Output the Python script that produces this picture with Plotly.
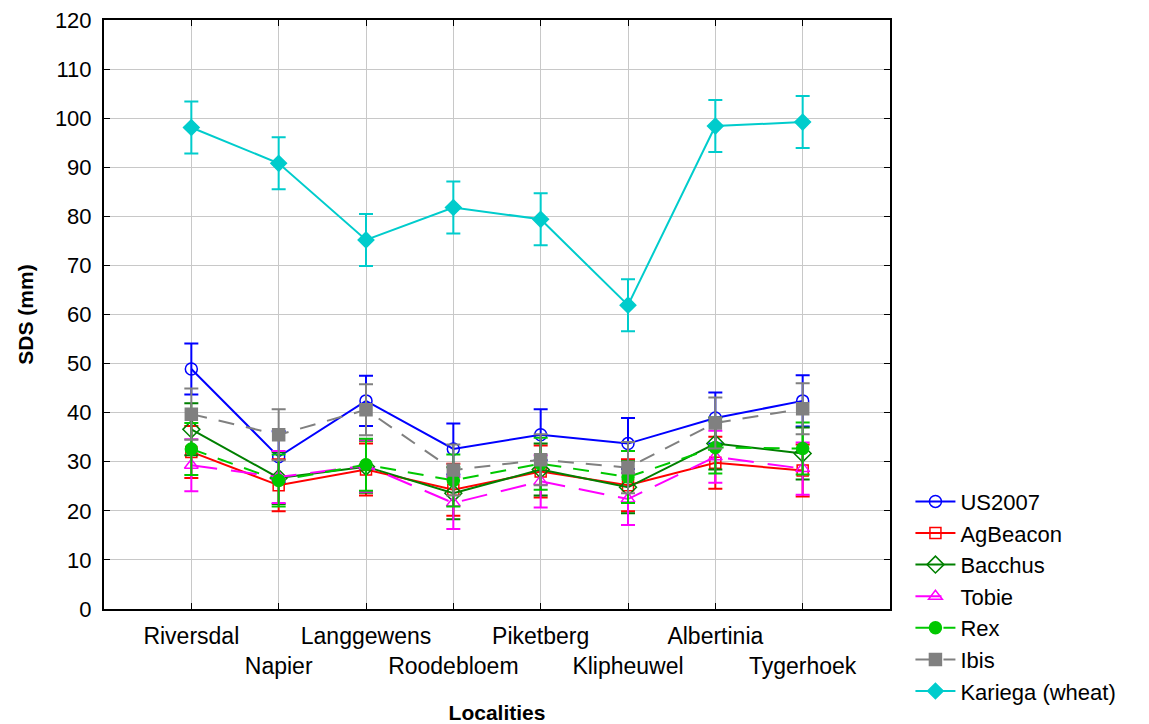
import plotly.graph_objects as go

# Localities (x categories) and tick labels set on two alternating rows
localities = ["Riversdal", "Napier", "Langgewens", "Roodebloem",
              "Piketberg", "Klipheuwel", "Albertinia", "Tygerhoek"]
tick_labels = ["Riversdal", "<br>Napier", "Langgewens", "<br>Roodebloem",
               "Piketberg", "<br>Klipheuwel", "Albertinia", "<br>Tygerhoek"]
positions = [1, 2, 3, 4, 5, 6, 7, 8]

# Mean SDS (mm) per cultivar and locality
us2007 = [48.9, 31.0, 42.4, 32.6, 35.5, 33.7, 38.9, 42.4]
agbeacon = [32.0, 25.2, 28.4, 24.3, 28.0, 25.2, 29.8, 28.2]
bacchus = [36.6, 26.7, 29.0, 23.6, 28.4, 24.8, 33.7, 31.7]
tobie = [29.3, 26.9, 29.2, 21.6, 26.0, 22.4, 31.0, 28.6]
rex = [32.6, 26.2, 29.4, 26.2, 29.6, 26.9, 32.9, 32.7]
ibis = [39.7, 35.5, 40.6, 28.3, 30.4, 28.8, 37.9, 40.8]
kariega = [98.1, 90.8, 75.2, 81.8, 79.4, 61.9, 98.4, 99.2]

# Half-length of the error bars (mm)
us2007_err = [5.2, 5.2, 5.1, 5.2, 5.2, 5.2, 5.2, 5.2]
agbeacon_err = [5.3, 5.3, 5.3, 5.3, 5.3, 5.3, 5.3, 5.3]
bacchus_err = [5.3, 5.3, 5.3, 5.3, 5.3, 5.3, 5.3, 5.3]
tobie_err = [5.3, 5.3, 5.3, 5.3, 5.3, 5.3, 5.3, 5.3]
rex_err = [5.3, 5.3, 5.3, 5.3, 5.3, 5.3, 5.3, 5.3]
ibis_err = [5.2, 5.2, 5.2, 5.2, 5.2, 5.2, 5.2, 5.2]
kariega_err = [5.3, 5.3, 5.3, 5.3, 5.3, 5.3, 5.3, 5.3]

y_ticks = list(range(0, 121, 10))

series = [
    ("US2007", us2007, us2007_err, "#0000ff", "circle-open", "solid", 12),
    ("AgBeacon", agbeacon, agbeacon_err, "#ff0000", "square-open", "solid", 11),
    ("Bacchus", bacchus, bacchus_err, "#008000", "diamond-open", "solid", 13),
    ("Tobie", tobie, tobie_err, "#ff00ff", "triangle-up-open", "26px,14px", 12),
    ("Rex", rex, rex_err, "#00c800", "circle", "16px,12px", 12),
    ("Ibis", ibis, ibis_err, "#808080", "square", "16px,12px", 12),
    ("Kariega (wheat)", kariega, kariega_err, "#00cccc", "diamond", "solid", 12),
]

fig = go.Figure()
for name, vals, errs, color, symbol, dash, size in series:
    fig.add_trace(go.Scatter(
        x=positions, y=vals, name=name, mode="lines+markers",
        line=dict(color=color, width=2, dash=dash),
        marker=dict(symbol=symbol, size=size, color=color,
                    line=dict(color=color, width=1.5)),
        error_y=dict(type="data", array=errs, visible=True,
                     color=color, thickness=2, width=7),
    ))

fig.update_layout(
    width=1149, height=724,
    margin=dict(l=104, r=259, t=20, b=115, autoexpand=False),
    paper_bgcolor="white", plot_bgcolor="white",
    font=dict(family="Liberation Sans, Arial, sans-serif", color="black"),
    showlegend=True,
    legend=dict(x=1.026, y=0.218, xanchor="left", yanchor="top",
                font=dict(size=22), itemwidth=40, tracegroupgap=0,
                bgcolor="rgba(0,0,0,0)"),
)

fig.update_xaxes(
    range=[0, 9], tickmode="array", tickvals=positions, ticktext=tick_labels,
    tickfont=dict(size=23), tickangle=0, automargin=False, ticklabelstandoff=5,
    ticks="inside", ticklen=6, tickcolor="black",
    showgrid=True, gridcolor="#c8c8c8", gridwidth=1,
    showline=True, linecolor="black", linewidth=2, mirror="ticks",
    zeroline=False,
    title=dict(text="<b>Localities</b>", font=dict(size=21), standoff=30),
)
fig.update_yaxes(
    range=[0, 120], tickmode="array", tickvals=y_ticks,
    tickfont=dict(size=22), automargin=False, ticklabelstandoff=6,
    ticks="inside", ticklen=6, tickcolor="black",
    showgrid=True, gridcolor="#c8c8c8", gridwidth=1,
    showline=True, linecolor="black", linewidth=2, mirror="ticks",
    zeroline=False,
    title=dict(text="<b>SDS (mm)</b>", font=dict(size=21), standoff=16),
)

fig.write_html("out.html")
